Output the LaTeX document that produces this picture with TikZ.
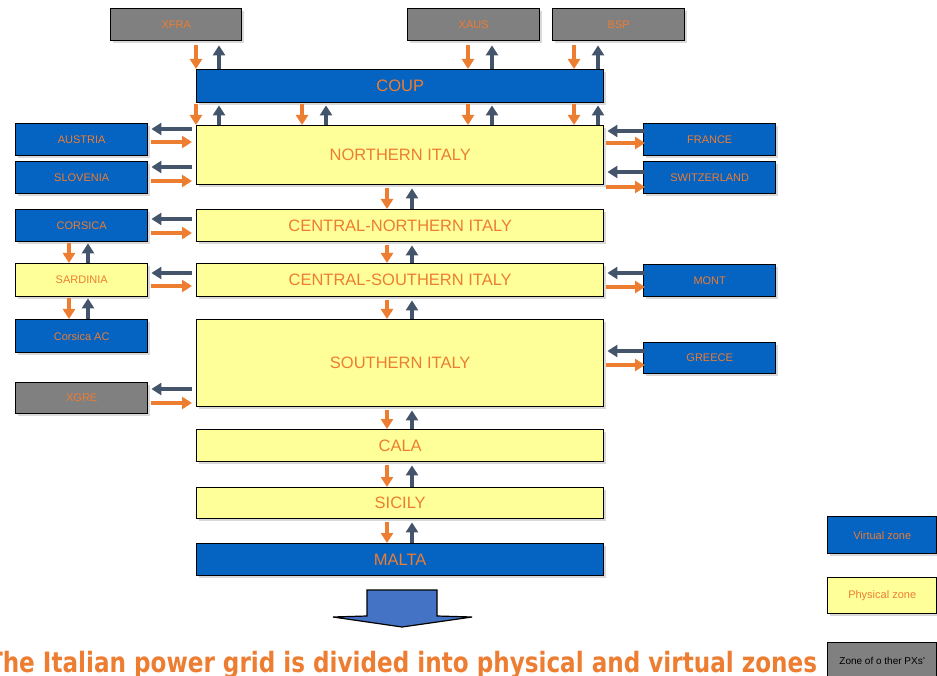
\documentclass[tikz,border=0pt]{standalone}
\usepackage{graphicx}
\usepackage{fontspec}
\setmainfont{Liberation Sans}
\newfontfamily\capfont{DejaVu Sans}
\usetikzlibrary{arrows.meta,calc,shadows}
\definecolor{zblue}{HTML}{0563C1}
\definecolor{zyellow}{HTML}{FFFF99}
\definecolor{zgrey}{HTML}{808080}
\definecolor{zorange}{HTML}{ED7D31}
\definecolor{zslate}{HTML}{44546A}
\definecolor{zarrow}{HTML}{4472C4}
\tikzset{
  zone/.style={draw=black, line width=1.4pt, anchor=north west, inner sep=0pt,
    text=zorange, font=\fontsize{11}{11}\selectfont,
    drop shadow={shadow xshift=2.5pt, shadow yshift=-2.5pt, fill=black!15, opacity=1}},
  virt/.style={zone, fill=zblue},
  phys/.style={zone, fill=zyellow},
  othr/.style={zone, fill=zgrey},
  big/.style={font=\fontsize{16.5}{16.5}\selectfont},
  orarr/.style={draw=zorange, line width=4.5pt, -{Triangle[width=12pt,length=10pt]}},
  slarr/.style={draw=zslate, line width=4.5pt, -{Triangle[width=12pt,length=10pt]}},
}
\begin{document}
\begin{tikzpicture}[x=1pt,y=-1pt]
  \useasboundingbox (0,0) rectangle (937,676);
  \clip (0,0) rectangle (937,676);
  %
  % Zones of other PXs
  \node[othr, minimum width=131pt, minimum height=32pt] (xfra) at (110,8) {XFRA};
  \node[othr, minimum width=132pt, minimum height=32pt] (xaus) at (407,8) {XAUS};
  \node[othr, minimum width=132pt, minimum height=32pt] (bsp) at (552,8) {BSP};
  %
  % Central column
  \node[virt, big, minimum width=407pt, minimum height=33pt] (coup) at (196,69) {COUP};
  \node[phys, big, minimum width=407pt, minimum height=59pt] (north) at (196,125) {NORTHERN ITALY};
  \node[phys, big, minimum width=407pt, minimum height=32pt] (cnor) at (196,209) {CENTRAL-NORTHERN ITALY};
  \node[phys, big, minimum width=407pt, minimum height=33pt] (csud) at (196,263) {CENTRAL-SOUTHERN ITALY};
  \node[phys, big, minimum width=407pt, minimum height=87pt] (sud) at (196,319) {SOUTHERN ITALY};
  \node[phys, big, minimum width=407pt, minimum height=32pt] (cala) at (196,429) {CALA};
  \node[phys, big, minimum width=407pt, minimum height=31pt] (sici) at (196,487) {SICILY};
  \node[virt, big, minimum width=407pt, minimum height=32pt] (malt) at (196,543) {MALTA};
  %
  % Left column
  \node[virt, minimum width=132pt, minimum height=32pt] (aust) at (15,123) {AUSTRIA};
  \node[virt, minimum width=132pt, minimum height=32pt] (slov) at (15,161) {SLOVENIA};
  \node[virt, minimum width=132pt, minimum height=32pt] (cors) at (15,209) {CORSICA};
  \node[phys, minimum width=132pt, minimum height=33pt] (sard) at (15,263) {SARDINIA};
  \node[virt, minimum width=132pt, minimum height=33pt] (coac) at (15,319) {Corsica AC};
  \node[othr, minimum width=132pt, minimum height=31pt] (xgre) at (15,382) {XGRE};
  %
  % Right column
  \node[virt, minimum width=132pt, minimum height=32pt] (fran) at (643,123) {FRANCE};
  \node[virt, minimum width=132pt, minimum height=32pt] (swit) at (643,161) {SWITZERLAND};
  \node[virt, minimum width=132pt, minimum height=32pt] (mont) at (643,264) {MONT};
  \node[virt, minimum width=132pt, minimum height=31pt] (gree) at (643,342) {GREECE};
  %
  % Legend
  \node[virt, minimum width=109pt, minimum height=37pt] (lvir) at (827,516) {Virtual zone};
  \node[phys, minimum width=109pt, minimum height=36pt] (lphy) at (827,577) {Physical zone};
  \node[othr, text=black, font=\fontsize{10}{10}\selectfont, minimum width=109pt, minimum height=37pt] (loth) at (827,642) {Zone of o ther PXs'};
  %
  % Flows from the other PXs into COUP
  \foreach \a/\o/\s in {xfra/0/23, xaus/272/296, bsp/378/402}{
    \draw[orarr] ($(coup.north west |- \a.south)+(\o,4)$) -- ($(coup.north west)+(\o,0)$);
    \draw[slarr] ($(coup.north west)+(\s,0)$) -- ($(coup.north west |- \a.south)+(\s,4)$);
  }
  \foreach \o/\s in {0/23, 106/130, 272/296, 378/402}{
    \draw[orarr] ($(north.north west |- coup.south)+(\o,1)$) -- ($(north.north west)+(\o,0)$);
    \draw[slarr] ($(north.north west)+(\s,0)$) -- ($(north.north west |- coup.south)+(\s,2)$);
  }
  %
  % Links down the peninsula
  \foreach \a/\b in {north/cnor, cnor/csud, csud/sud, sud/cala, cala/sici, sici/malt}{
    \draw[orarr] ($(\b.north west |- \a.south)+(191,3)$) -- ($(\b.north west)+(191,0)$);
    \draw[slarr] ($(\b.north west)+(216,0)$) -- ($(\b.north west |- \a.south)+(216,3)$);
  }
  \foreach \a/\b in {cors/sard, sard/coac}{
    \draw[orarr] ($(\b.north west |- \a.south)+(54,1)$) -- ($(\b.north west)+(54,0)$);
    \draw[slarr] ($(\b.north west)+(73,0)$) -- ($(\b.north west |- \a.south)+(73,1)$);
  }
  %
  % Borders on the left
  \foreach \z/\t/\a/\b in {aust/north/6/19, slov/north/6/20, cors/cnor/10/24, sard/csud/10/23, xgre/sud/7/21}{
    \draw[slarr] ($(\t.west |- \z.north)+(-4,\a)$) -- ($(\z.north east)+(3,\a)$);
    \draw[orarr] ($(\z.north east)+(3,\b)$) -- ($(\t.west |- \z.north)+(-4,\b)$);
  }
  %
  % Borders on the right
  \foreach \z/\t/\a/\b in {fran/north/8/20, swit/north/11/26, mont/csud/9/23, gree/sud/9/23}{
    \draw[slarr] ($(\z.north west)+(2,\a)$) -- ($(\t.east |- \z.north)+(3,\a)$);
    \draw[orarr] ($(\t.east |- \z.north)+(2,\b)$) -- ($(\z.north west)+(2,\b)$);
  }
  %
  % Big arrow and caption
  \draw[line width=1.2pt, fill=zarrow] (367,590) -- (437,590) -- (437,616) -- (472,617)
    -- (402,627) -- (333,617) -- (367,616) -- cycle;
  \node[anchor=base, text=zorange, inner sep=0pt] (caption) at (402,672)
    {\resizebox{830pt}{\height}{\capfont\bfseries\fontsize{28}{28}\selectfont The Italian power grid is divided into physical and virtual zones}};
\end{tikzpicture}
\end{document}
